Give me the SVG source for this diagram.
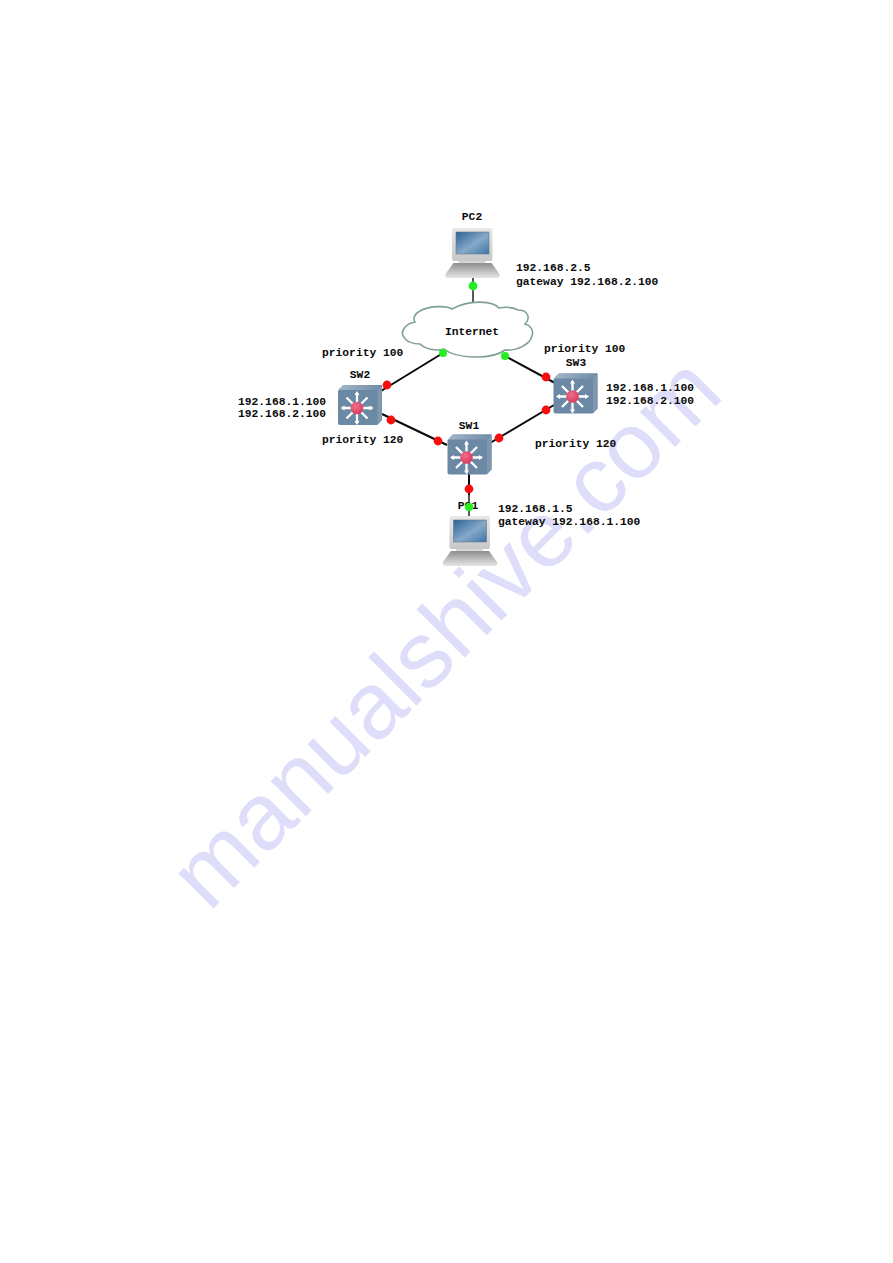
<svg xmlns="http://www.w3.org/2000/svg" width="893" height="1263" viewBox="0 0 893 1263">
<defs>
<style>
text{font-family:"Liberation Mono","DejaVu Sans Mono",monospace;font-size:11.3px;font-weight:bold;fill:#0a0a0a}
.c{text-anchor:middle}
.wm{font-family:"Liberation Sans",Arial,sans-serif;font-size:94px;font-weight:normal;fill:#dedefa}
.lnk{stroke:#0a0a0a;stroke-width:2;fill:none}
.lnk1{stroke:#222;stroke-width:1.5;fill:none}
.r{fill:#f80d0d}
.g{fill:#22ee22}
</style>
<linearGradient id="scr" x1="0" y1="0" x2="1" y2="1"><stop offset="0" stop-color="#2b6296"/><stop offset=".55" stop-color="#86aac8"/><stop offset="1" stop-color="#3d74a6"/></linearGradient>
<linearGradient id="body" x1="0" y1="0" x2="0" y2="1"><stop offset="0" stop-color="#e8e8e8"/><stop offset="1" stop-color="#c8c8c8"/></linearGradient>
<linearGradient id="kb" x1="0" y1="0" x2="0" y2="1"><stop offset="0" stop-color="#8f8f8f"/><stop offset="1" stop-color="#e6e6e6"/></linearGradient>
<linearGradient id="top" x1="0" y1="0" x2="1" y2="0"><stop offset="0" stop-color="#a3b6c8"/><stop offset="1" stop-color="#6f8ba7"/></linearGradient>
<radialGradient id="hub" cx=".4" cy=".35" r=".7"><stop offset="0" stop-color="#f0708c"/><stop offset="1" stop-color="#d8375a"/></radialGradient>
<g id="pc">
<rect x="6.500" y="0" width="40.500" height="33" rx="2" fill="url(#body)"/>
<rect x="10.500" y="4" width="33" height="22" fill="url(#scr)" stroke="#66788a" stroke-width=".6"/>
<rect x="13" y="33" width="27" height="2" fill="#d6d6d6"/>
<path d="M8 35H46L54 46Q55 50 51 50H3Q-1 50 0 46Z" fill="url(#kb)"/>
</g>
<g id="sw">
<path d="M0 6L6 0H44V35L39 40H2Q0 40 0 38Z" fill="#6b88a5"/>
<path d="M0 5L5 0H44L39.500 5Z" fill="url(#top)"/>
<path d="M39.500 5L44 0V35L39.500 40Z" fill="#7f98b0"/>
<g stroke="#fff" stroke-width="2.300" fill="none">
<path d="M4 23H34M19 8V38M8.500 12.500L29.500 33.500M29.500 12.500L8.500 33.500"/>
</g>
<g fill="#fff">
<path d="M19 6L16.500 10H21.500ZM19 40L16.500 36H21.500ZM2.500 23L6.500 20.500V25.500ZM35.500 23L31.500 20.500V25.500Z"/>
</g>
<circle cx="19" cy="23" r="6.300" fill="url(#hub)"/>
</g>
</defs>
<rect width="893" height="1263" fill="#fff"/>
<text class="wm" transform="translate(209 913) rotate(-45)" textLength="731" lengthAdjust="spacingAndGlyphs">manualshive.com</text>
<g id="connectors">
<path class="lnk1" d="M473 277V302"/>
<path class="lnk" d="M443 353L381 391"/>
<path class="lnk" d="M505 356L555 383"/>
<path class="lnk" d="M382 414L447 445"/>
<path class="lnk" d="M490 443L554 405"/>
<path class="lnk" d="M469 473V495"/>
<path class="lnk1" d="M469 495V516"/>
</g>
<g id="Internet">
<path d="M415 322C404 324 400 333 404 337C406 342 414 344 420 344C426 350 438 351 444 349C456 359 492 360 505 350C518 351 530 344 532 336C534 330 530 325 525 324C531 318 528 310 518 310C512 307 504 307 499 308C493 301 470 299 452 309C448 306 430 305 420 311C414 314 413 319 415 322Z" fill="#fff" stroke="#7f9f9c" stroke-width="1.600"/>
<text class="c" x="472" y="335">Internet</text>
</g>
<g id="PC2">
<use href="#pc" transform="translate(445.500 228)"/>
<text class="c" x="472" y="219.500">PC2</text>
<text x="516" y="271">192.168.2.5</text>
<text x="516" y="285">gateway 192.168.2.100</text>
</g>
<g id="SW2">
<use href="#sw" transform="translate(338 385)"/>
<text class="c" x="360" y="378">SW2</text>
<text x="238" y="405">192.168.1.100</text>
<text x="238" y="417">192.168.2.100</text>
<text x="322" y="356">priority 100</text>
<text x="322" y="443">priority 120</text>
</g>
<g id="SW3">
<use href="#sw" transform="translate(553.500 373.500)"/>
<text class="c" x="576" y="366">SW3</text>
<text x="606" y="391">192.168.1.100</text>
<text x="606" y="404">192.168.2.100</text>
<text x="544" y="352">priority 100</text>
<text x="535" y="447">priority 120</text>
</g>
<g id="SW1">
<use href="#sw" transform="translate(447.500 434.500)"/>
<text class="c" x="469" y="428.500">SW1</text>
</g>
<g id="PC1">
<use href="#pc" transform="translate(443 516)"/>
<text class="c" x="468" y="509">PC1</text>
<text x="498" y="512">192.168.1.5</text>
<text x="498" y="525">gateway 192.168.1.100</text>
</g>
<g id="ports">
<circle class="g" cx="473" cy="286" r="4.400"/>
<circle class="g" cx="443" cy="353" r="4"/>
<circle class="g" cx="505" cy="356" r="4"/>
<circle class="r" cx="387" cy="385" r="4.400"/>
<circle class="r" cx="391" cy="420" r="4.400"/>
<circle class="r" cx="438" cy="441" r="4.400"/>
<circle class="r" cx="546" cy="377" r="4.400"/>
<circle class="r" cx="546" cy="410" r="4.400"/>
<circle class="r" cx="499" cy="438" r="4.400"/>
<circle class="r" cx="469" cy="489" r="4.400"/>
<circle class="g" cx="469" cy="507" r="4.200"/>
</g>
</svg>
